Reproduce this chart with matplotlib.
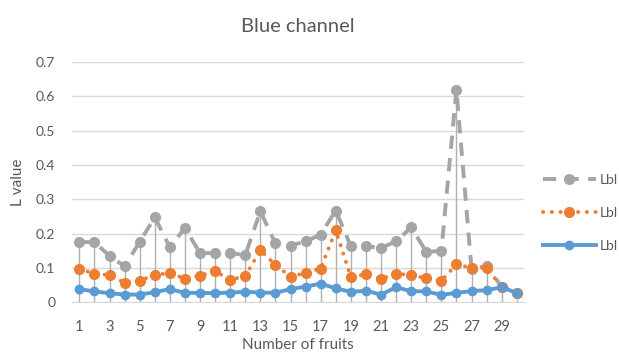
import numpy as np
import matplotlib.pyplot as plt

plt.rcParams['font.family'] = ['Lato', 'DejaVu Sans']

# fruit count 1..30
fruits = np.arange(1, 31)

# gray series (dashed)
gray_vals = [0.175, 0.175, 0.135, 0.104, 0.176, 0.247, 0.160, 0.216, 0.143, 0.143,
             0.143, 0.137, 0.265, 0.171, 0.165, 0.177, 0.197, 0.267, 0.163, 0.163,
             0.158, 0.177, 0.218, 0.147, 0.149, 0.620, 0.097, 0.105, 0.045, 0.027]
# orange series (dotted)
orange_vals = [0.098, 0.082, 0.079, 0.056, 0.063, 0.079, 0.085, 0.068, 0.077, 0.090,
               0.065, 0.076, 0.151, 0.109, 0.074, 0.085, 0.098, 0.209, 0.073, 0.081,
               0.068, 0.082, 0.080, 0.069, 0.062, 0.110, 0.100, 0.100, 0.045, 0.028]
# blue series (solid)
blue_vals = [0.038, 0.031, 0.026, 0.022, 0.022, 0.029, 0.038, 0.027, 0.027, 0.026,
             0.028, 0.030, 0.028, 0.027, 0.038, 0.045, 0.054, 0.040, 0.030, 0.033,
             0.022, 0.043, 0.032, 0.031, 0.021, 0.027, 0.032, 0.035, 0.043, 0.027]

labels = ['Lbl', 'Lbl', 'Lbl']
y_ticks = [0, 0.1, 0.2, 0.3, 0.4, 0.5, 0.6, 0.7]
y_tick_labels = ['0', '0.1', '0.2', '0.3', '0.4', '0.5', '0.6', '0.7']

fig = plt.figure(figsize=(6.19, 3.55), dpi=100)
ax = fig.add_axes([0.116, 0.149, 0.731, 0.676])

text_col = '#595959'
grid_col = '#d9d9d9'

# drop lines from highest point to the axis
tops = np.max([gray_vals, orange_vals, blue_vals], axis=0)
ax.vlines(fruits, 0, tops, color='#b0b0b0', lw=1, zorder=1)

ax.plot(fruits, gray_vals, color='#a5a5a5', lw=2.8, linestyle=(0, (3.4, 2.4)),
        marker='o', markersize=7, label=labels[0], zorder=3)
ax.plot(fruits, orange_vals, color='#ed7d31', lw=2.8, linestyle=(0, (0.05, 2.2)),
        dash_capstyle='round', marker='o', markersize=7, label=labels[1], zorder=4)
ax.plot(fruits, blue_vals, color='#5b9bd5', lw=2.8, marker='o', markersize=6,
        label=labels[2], zorder=5)

ax.set_xlim(0.5, 30.5)
ax.set_ylim(0, 0.7)
ax.set_xticks(np.arange(1, 30, 2))
ax.set_yticks(y_ticks)
ax.set_yticklabels(y_tick_labels)
ax.tick_params(axis='y', length=0, colors=text_col, labelsize=10, pad=12)
ax.tick_params(axis='x', length=0, colors=text_col, labelsize=10.5, pad=13)
ax.grid(axis='y', color=grid_col, lw=1)
ax.set_axisbelow(True)
for s in ['top', 'right', 'left']:
    ax.spines[s].set_visible(False)
ax.spines['bottom'].set_color(grid_col)

ax.set_title('Blue channel', fontsize=14.5, color=text_col, pad=22)
ax.set_xlabel('Number of fruits', fontsize=11, color=text_col, labelpad=3)
ax.set_ylabel('L value', fontsize=11, color=text_col, labelpad=8)

fig.legend(loc='center left', bbox_to_anchor=(0.868, 0.40), frameon=False,
           handlelength=3.8, labelspacing=1.5, fontsize=10, labelcolor=text_col,
           handletextpad=0.3, borderaxespad=0)

fig.savefig('out.png', dpi=100)
